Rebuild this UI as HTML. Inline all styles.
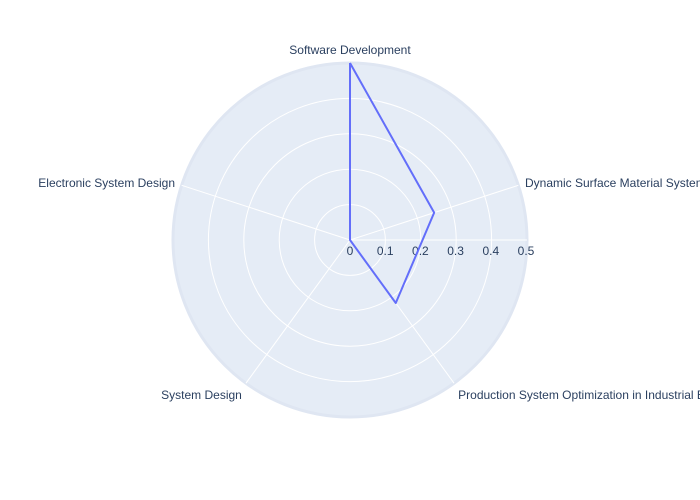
<!DOCTYPE html>
<html><head><meta charset="utf-8"><style>
body{margin:0;background:#fff;}
svg{display:block;font-family:"Liberation Sans",Arial,sans-serif;}
</style></head><body>
<svg id="chart" width="700" height="500">
<g id="g"></g>
</svg>
<script>
const categories=["Software Development","Dynamic Surface Material Systems","Production System Optimization in Industrial Engineering","System Design","Electronic System Design"];
const values=[0.5,0.25,0.22,0,0];
const radialTicks=[0,0.1,0.2,0.3,0.4,0.5];
const rMax=0.5;
const cx=350,cy=240,R=177;
const NS="http://www.w3.org/2000/svg";
const g=document.getElementById('g');
function mk(t,a){const e=document.createElementNS(NS,t);for(const k in a)e.setAttribute(k,a[k]);g.appendChild(e);return e;}
function rad(v){return v/rMax*R;}
function ang(i){return (90-i*360/categories.length)*Math.PI/180;}
function pt(v,i){const r=rad(v),a=ang(i);return [cx+r*Math.cos(a),cy-r*Math.sin(a)];}
let bg=mk('circle',{cx:cx,cy:cy,r:R,fill:'#e5ecf6',stroke:'#dfe6f2','stroke-width':3});


radialTicks.forEach(t=>{if(t>0&&t<rMax){const c=mk('circle',{cx:cx,cy:cy,r:rad(t),fill:'none',stroke:'#fff','stroke-width':1});

}});
categories.forEach((c,i)=>{const p=pt(rMax,i);const l=mk('line',{x1:cx,y1:cy,x2:p[0],y2:p[1],stroke:'#fff','stroke-width':1});


const a=ang(i),ca=Math.cos(a),sa=Math.sin(a);
const lx=cx+(R+7)*ca,ly=cy-(R+7)*sa;
const anchor=Math.abs(ca)<0.1?'middle':(ca>0?'start':'end');
const dy=sa>0.9?-2:(sa<-0.5?10:4);
const t=mk('text',{x:lx,y:ly+dy,'text-anchor':anchor,'font-size':12,fill:'#2a3f5f'});t.textContent=c;

});
const ax=mk('line',{x1:cx,y1:cy,x2:cx+R,y2:cy,stroke:'#fff','stroke-width':1});


radialTicks.forEach(t=>{const e=mk('text',{x:cx+t*352,y:cy+15,'text-anchor':'middle','font-size':12,fill:'#2a3f5f'});e.textContent=String(t);

});
const pts=values.map((v,i)=>pt(v,i));pts.push(pts[0]);
const line=mk('polyline',{points:pts.map(p=>p.join(',')).join(' '),fill:'none',stroke:'#636efa','stroke-width':2,'stroke-linejoin':'round'});


</script>
</body></html>
